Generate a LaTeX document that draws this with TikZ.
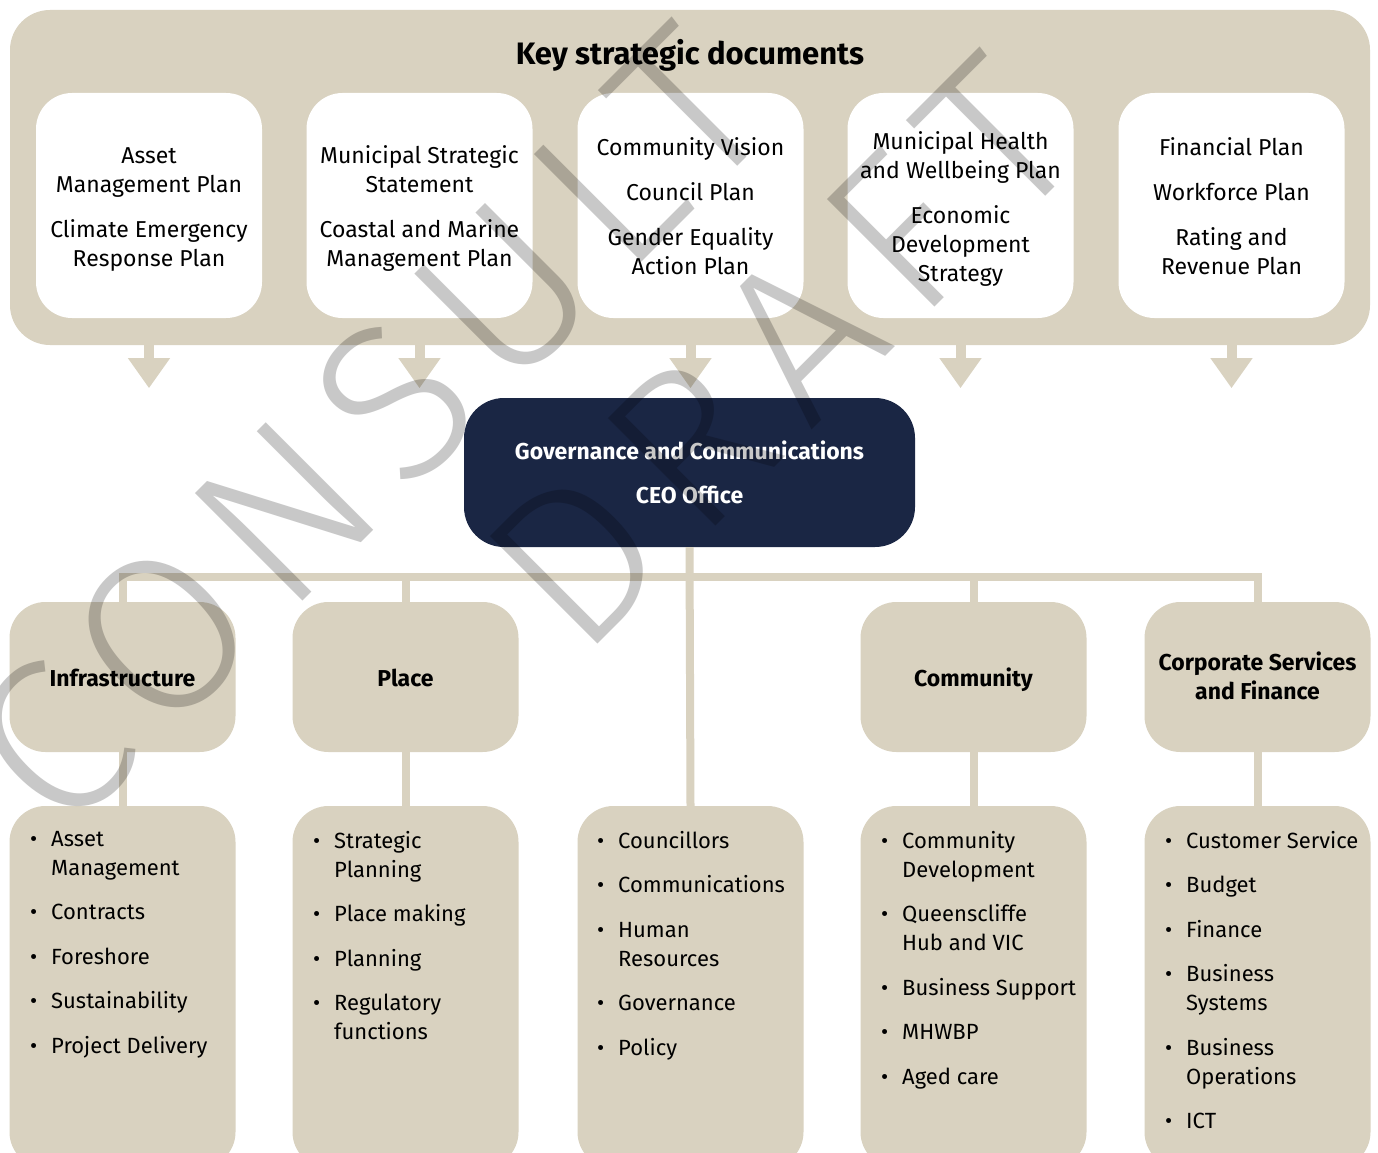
\documentclass[tikz,border=0pt]{standalone}
\usepackage{fontspec}
\setmainfont{Fira Sans}
\newfontfamily\wmfont{Fira Sans}[UprightFont={* Light}]
\usetikzlibrary{arrows.meta}
\definecolor{sand}{RGB}{217,210,192}
\definecolor{navy}{RGB}{26,38,68}
\definecolor{wmgray}{RGB}{200,200,200}
\newcommand{\bul}{\makebox[21pt][l]{\textbullet}}
\newcommand{\ind}{\hspace*{21pt}}
\newcommand{\tops}{\rule{0pt}{27pt}}
\newcommand{\bots}{\rule[-8pt]{0pt}{8pt}}
\newcommand{\wmsize}{\wmfont\fontsize{222}{222}\selectfont}

\begin{document}
\begin{tikzpicture}[x=1pt,y=-1pt,
    txt/.style={font=\fontsize{23}{29}\selectfont},
    docbox/.style={txt,fill=white,rounded corners=36pt,minimum width=226pt,minimum height=225pt,inner sep=0pt,align=center},
    dept/.style={font=\fontsize{23}{29}\selectfont\bfseries,fill=sand,rounded corners=36pt,minimum width=226pt,minimum height=150pt,inner sep=0pt,align=center,
      execute at begin node=\rule{0pt}{27pt},execute at end node=\strut},
    listbox/.style={fill=sand,rounded corners=36pt,minimum width=226pt,minimum height=362pt,inner sep=0pt},
    items/.style={font=\fontsize{22}{29}\selectfont,align=left,anchor=north west,inner sep=0pt},
    link/.style={draw=sand,line width=8pt},
    feed/.style={draw=sand,line width=10pt,-{Triangle[width=40pt,length=30pt]}},
    stamp/.style={text=wmgray,font=\wmsize,rotate=45,anchor=base west,inner sep=0pt}]
  \useasboundingbox (0,0) rectangle (1378,1153);
  \fill[white] (0,0) rectangle (1378,1153);

  % key strategic documents
  \node[fill=sand,rounded corners=40pt,minimum width=1360pt,minimum height=335pt,inner sep=0pt] (keydocs) at (690,177.5) {};
  \node[font=\fontsize{31}{36}\selectfont\bfseries] (title) at (690,55) {Key strategic documents};
  \node[docbox] (doc1) at (149,205.5) {\tops Asset\\Management Plan\\[16pt]Climate Emergency\\Response Plan\bots};
  \node[docbox] (doc2) at (419.5,205.5) {\tops Municipal Strategic\\Statement\\[16pt]Coastal and Marine\\Management Plan\bots};
  \node[docbox] (doc3) at (690.5,205.5) {\tops Community Vision\\[16pt]Council Plan\\[16pt]Gender Equality\\Action Plan\bots};
  \node[docbox] (doc4) at (960.5,205.5) {\tops Municipal Health\\and Wellbeing Plan\\[16pt]Economic\\Development\\Strategy\bots};
  \node[docbox] (doc5) at (1231.5,205.5) {\tops Financial Plan\\[16pt]Workforce Plan\\[16pt]Rating and\\Revenue Plan\bots};
  \foreach \d in {doc1,doc2,doc3,doc4,doc5}
    \draw[feed] ([yshift=5pt]\d.south |- keydocs.south) -- ++(0,48);

  % CEO
  \node[fill=navy,rounded corners=40pt,minimum width=451pt,minimum height=149pt,text=white,font=\fontsize{23}{29}\selectfont\bfseries,align=center] (ceo) at (689.5,472.5) {Governance and Communications\\[15pt]CEO Office};

  % departments
  \node[dept] (infra) at (122.5,677) {Infrastructure};
  \node[dept] (place) at (405.5,677) {Place};
  \node[dept] (comm) at (973.5,677) {Community};
  \node[dept] (corp) at (1257.5,677) {\rule{0pt}{25pt}Corporate Services\\and Finance};

  \node[listbox] (infralist) at (122.5,987) {};
  \node[listbox] (placelist) at (405.5,987) {};
  \node[listbox] (govlist) at (690.5,987) {};
  \node[listbox] (commlist) at (973.5,987) {};
  \node[listbox] (corplist) at (1257.5,987) {};

  \coordinate (bus) at (690,577);
  \draw[link] (infra.north) |- (bus) -| (corp.north);
  \draw[link] (place.north) -- (place.north |- bus);
  \draw[link] (comm.north) -- (comm.north |- bus);
  \draw[link] (ceo.south) -- (govlist.north);
  \foreach \a/\b in {infra/infralist,place/placelist,comm/commlist,corp/corplist}
    \draw[link] (\a) -- (\b);

  \node[items] (infraitems) at (30,831) {\bul Asset\\\ind Management\\[15.5pt]\bul Contracts\\[15.5pt]\bul Foreshore\\[15.5pt]\bul Sustainability\\[15.5pt]\bul Project Delivery};
  \node[items] (placeitems) at (313,831) {\bul Strategic\\\ind Planning\\[15.5pt]\bul Place making\\[15.5pt]\bul Planning\\[15.5pt]\bul Regulatory\\\ind functions};
  \node[items] (govitems) at (597,831) {\bul Councillors\\[15.5pt]\bul Communications\\[15.5pt]\bul Human\\\ind Resources\\[15.5pt]\bul Governance\\[15.5pt]\bul Policy};
  \node[items] (commitems) at (881,831) {\bul Community\\\ind Development\\[15.5pt]\bul Queenscliffe\\\ind Hub and VIC\\[15.5pt]\bul Business Support\\[15.5pt]\bul MHWBP\\[15.5pt]\bul Aged care};
  \node[items] (corpitems) at (1165,831) {\bul Customer Service\\[15.5pt]\bul Budget\\[15.5pt]\bul Finance\\[15.5pt]\bul Business\\\ind Systems\\[15.5pt]\bul Business\\\ind Operations\\[15.5pt]\bul ICT};

  % watermark
  \begin{scope}[blend mode=multiply]
    \node[stamp] (consult) at (62,842) {\addfontfeature{LetterSpace=10}CONSULT};
    \node[stamp] (draft) at (580,662) {\addfontfeature{LetterSpace=12}DRAFT};
  \end{scope}
\end{tikzpicture}
\end{document}
